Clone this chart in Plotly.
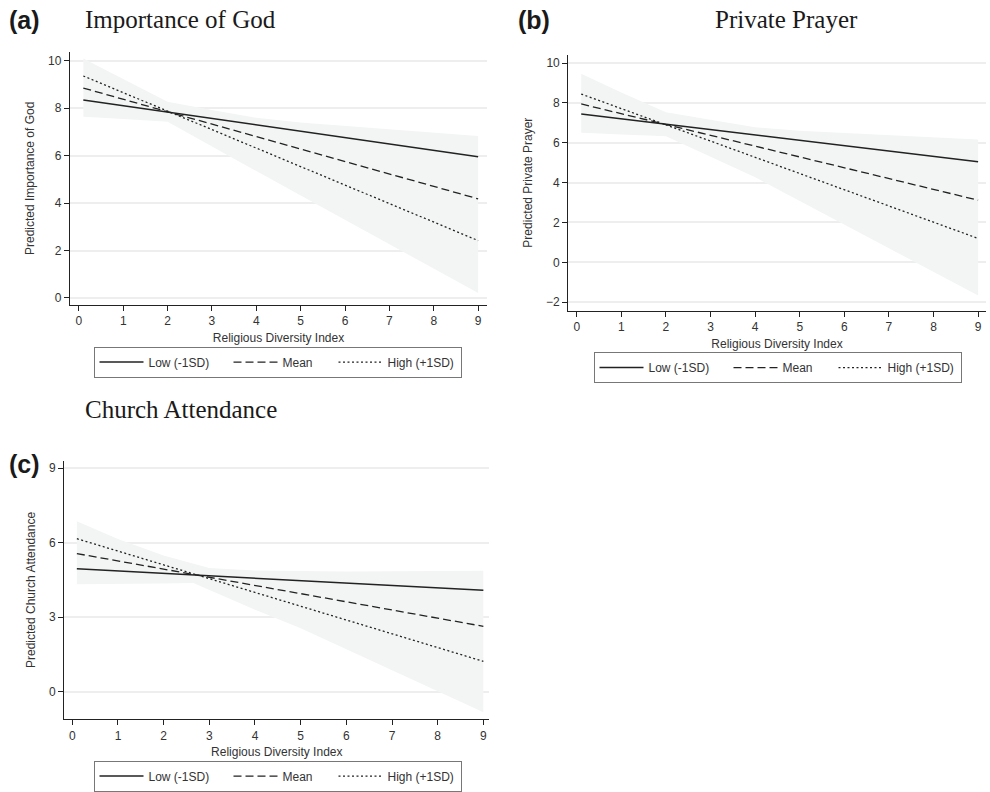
import plotly.graph_objects as go

# ---------------- data ----------------
series_names = ["Low (-1SD)", "Mean", "High (+1SD)"]
line_x = [0.1, 9]

# (a) Importance of God
a_low = [8.35, 5.95]
a_mean = [8.85, 4.18]
a_high = [9.36, 2.42]
a_band_x = [0.1, 1, 2, 3, 4, 5, 6, 7, 8, 9]
a_upper = [10.1, 9.23, 8.27, 7.93, 7.6, 7.4, 7.26, 7.11, 6.97, 6.83]
a_lower = [7.64, 7.55, 7.43, 6.4, 5.35, 4.32, 3.28, 2.25, 1.23, 0.21]

# (b) Private Prayer
b_low = [7.45, 5.05]
b_mean = [7.95, 3.12]
b_high = [8.45, 1.2]
b_band_x = [0.1, 1, 2, 3, 4, 5, 6, 7, 8, 9]
b_upper = [9.47, 8.53, 7.53, 7.15, 6.78, 6.6, 6.5, 6.4, 6.28, 6.17]
b_lower = [6.5, 6.42, 6.33, 5.3, 4.27, 3.1, 1.9, 0.7, -0.48, -1.67]

# (c) Church Attendance
c_low = [4.95, 4.08]
c_mean = [5.56, 2.63]
c_high = [6.16, 1.22]
c_band_x = [0.1, 1, 2, 2.65, 3, 4, 5, 6, 7, 8, 9]
c_upper = [6.86, 6.15, 5.48, 5.15, 4.98, 4.88, 4.85, 4.84, 4.85, 4.86, 4.87]
c_lower = [4.32, 4.34, 4.36, 4.38, 4.1, 3.3, 2.55, 1.7, 0.86, 0.02, -0.83]

x_ticks = list(range(0, 10))
a_yticks = [0, 2, 4, 6, 8, 10]
b_yticks = [-2, 0, 2, 4, 6, 8, 10]
c_yticks = [0, 3, 6, 9]

titles = ["Importance of God", "Private Prayer", "Church Attendance"]
letters = ["(a)", "(b)", "(c)"]
y_titles = ["Predicted Importance of God", "Predicted Private Prayer",
            "Predicted Church Attendance"]
x_title = "Religious Diversity Index"

# ---------------- styles ----------------
W, H = 990, 792
BAND = "rgb(243,245,244)"
INK = "#222222"
TXT = "#333333"
dashes = ["solid", "8px,4px", "2px,2.5px"]
widths = [1.5, 1.3, 1.3]
entry_widths = [75, 46, 68]

fig = go.Figure()

panels = [
    dict(xa="x", ya="y", leg="legend", bx=a_band_x, up=a_upper, lo=a_lower,
         lines=[a_low, a_mean, a_high]),
    dict(xa="x2", ya="y2", leg="legend2", bx=b_band_x, up=b_upper, lo=b_lower,
         lines=[b_low, b_mean, b_high]),
    dict(xa="x3", ya="y3", leg="legend3", bx=c_band_x, up=c_upper, lo=c_lower,
         lines=[c_low, c_mean, c_high]),
]

for p in panels:
    fig.add_trace(go.Scatter(
        x=p["bx"] + p["bx"][::-1], y=p["up"] + p["lo"][::-1],
        fill="toself", fillcolor=BAND, line=dict(width=0), mode="lines",
        hoverinfo="skip", showlegend=False, xaxis=p["xa"], yaxis=p["ya"]))
    for name, vals, dsh, wd, ew in zip(series_names, p["lines"], dashes, widths, entry_widths):
        fig.add_trace(go.Scatter(
            x=line_x, y=vals, mode="lines", name=name,
            line=dict(color=INK, width=wd, dash=dsh), legendwidth=ew,
            xaxis=p["xa"], yaxis=p["ya"], legend=p["leg"]))

def px_x(v):
    return v / W

def px_y(v):
    return 1 - v / H

axis_common = dict(
    showline=True, linecolor=INK, linewidth=1.3, ticks="outside", ticklen=5,
    tickwidth=1.2, tickcolor=INK, zeroline=False, automargin=False,
    tickfont=dict(family="Liberation Sans, Arial", size=12, color=TXT),
    mirror=False,
)

def xaxis(dom, rng, anchor):
    return dict(axis_common, domain=dom, range=rng, anchor=anchor,
                tickvals=x_ticks, showgrid=False,
                title=dict(text=x_title, standoff=6,
                           font=dict(family="Liberation Sans, Arial", size=12, color=TXT)))

def yaxis(dom, rng, anchor, ticks, title):
    return dict(axis_common, domain=dom, range=rng, anchor=anchor,
                tickvals=ticks, showgrid=True, gridcolor="#eeeeee", gridwidth=1.5,
                title=dict(text=title, standoff=10,
                           font=dict(family="Liberation Sans, Arial", size=12, color=TXT)))

fig.update_layout(
    width=W, height=H, margin=dict(l=0, r=0, t=0, b=0),
    paper_bgcolor="white", plot_bgcolor="white",
    xaxis=xaxis([px_x(70), px_x(487)], [-0.2, 9.2], "y"),
    yaxis=yaxis([px_y(306), px_y(52)], [-0.29, 10.38], "x", a_yticks, y_titles[0]),
    xaxis2=xaxis([px_x(568.3), px_x(985.7)], [-0.19, 9.17], "y2"),
    yaxis2=yaxis([px_y(311.7), px_y(55)], [-2.42, 10.42], "x2", b_yticks, y_titles[1]),
    xaxis3=xaxis([px_x(64.3), px_x(489.3)], [-0.175, 9.13], "y3"),
    yaxis3=yaxis([px_y(721.7), px_y(462.7)], [-1.1, 9.29], "x3", c_yticks, y_titles[2]),
    showlegend=True,
)

leg_common = dict(orientation="h", xanchor="center", yanchor="middle",
                  bordercolor="#777777", borderwidth=1, bgcolor="white",
                  itemwidth=44,
                  font=dict(family="Liberation Sans, Arial", size=12, color=TXT),
                  traceorder="normal", itemclick=False, itemdoubleclick=False)
fig.update_layout(
    legend=dict(leg_common, x=px_x(277.5), y=px_y(363.5)),
    legend2=dict(leg_common, x=px_x(777.5), y=px_y(369)),
    legend3=dict(leg_common, x=px_x(277.5), y=px_y(779)),
)

# titles and panel letters
ann = []
title_pos = [(83, 20, "left"), (786, 20, "center"), (83, 411.5, "left")]
letter_pos = [(7, 20), (516, 20), (7, 466)]
for t, (tx, ty, al), l, (lx, ly) in zip(titles, title_pos, letters, letter_pos):
    ann.append(dict(text=t, x=px_x(tx), y=px_y(ty), xref="paper", yref="paper",
                    xanchor=al, yanchor="middle", showarrow=False,
                    font=dict(family="Liberation Serif, Times New Roman", size=25, color="#1a1a1a")))
    ann.append(dict(text="<b>" + l + "</b>", x=px_x(lx), y=px_y(ly), xref="paper", yref="paper",
                    xanchor="left", yanchor="middle", showarrow=False,
                    font=dict(family="Liberation Sans, Arial", size=25, color="#1a1a1a")))
fig.update_layout(annotations=ann)

fig.write_html("out.html", config={"displayModeBar": False},
               post_script="document.body.style.margin='0';document.body.style.padding='0';")
